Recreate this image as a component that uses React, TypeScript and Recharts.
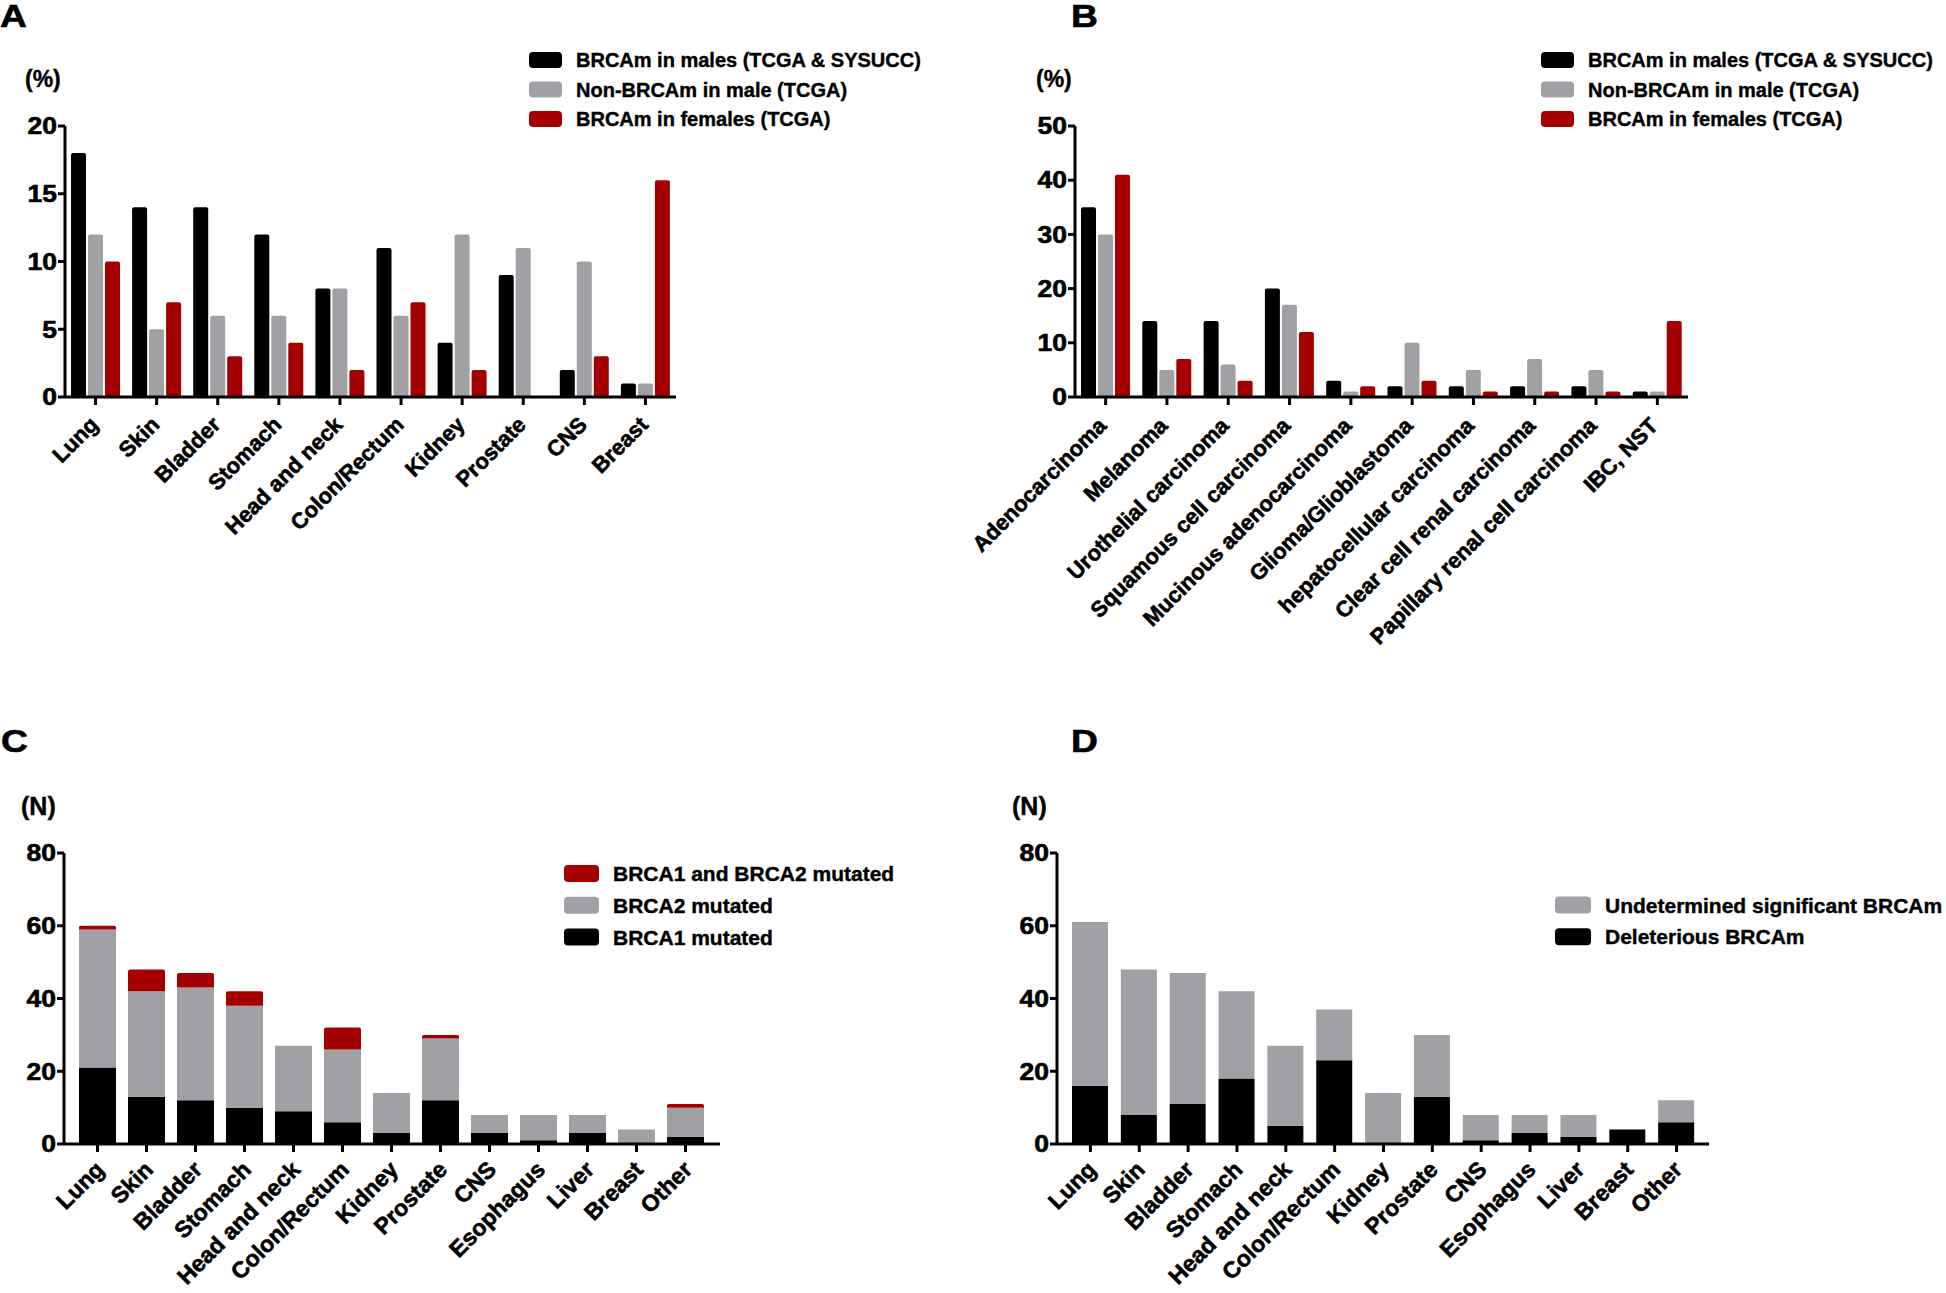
import { BarChart, Bar, XAxis, YAxis } from 'recharts';

const tissuesA = ['Lung', 'Skin', 'Bladder', 'Stomach', 'Head and neck', 'Colon/Rectum', 'Kidney', 'Prostate', 'CNS', 'Breast'];
const malesA = [18, 14, 14, 12, 8, 11, 4, 9, 2, 1];
const nonBrcaMaleA = [12, 5, 6, 6, 8, 6, 12, 11, 10, 1];
const femalesA = [10, 7, 3, 4, 2, 7, 2, 0, 3, 16];
const ticksA = [0, 5, 10, 15, 20];

const histologyB = [
  'Adenocarcinoma', 'Melanoma', 'Urothelial carcinoma', 'Squamous cell carcinoma', 'Mucinous adenocarcinoma',
  'Glioma/Glioblastoma', 'hepatocellular carcinoma', 'Clear cell renal carcinoma', 'Papillary renal cell carcinoma', 'IBC, NST',
];
const malesB = [35, 14, 14, 20, 3, 2, 2, 2, 2, 1];
const nonBrcaMaleB = [30, 5, 6, 17, 1, 10, 5, 7, 5, 1];
const femalesB = [41, 7, 3, 12, 2, 3, 1, 1, 1, 14];
const ticksB = [0, 10, 20, 30, 40, 50];

const tissuesCD = ['Lung', 'Skin', 'Bladder', 'Stomach', 'Head and neck', 'Colon/Rectum', 'Kidney', 'Prostate', 'CNS', 'Esophagus', 'Liver', 'Breast', 'Other'];
const brca1C = [21, 13, 12, 10, 9, 6, 3, 12, 3, 1, 3, 0, 2];
const brca2C = [38, 29, 31, 28, 18, 20, 11, 17, 5, 7, 5, 4, 8];
const bothC = [1, 6, 4, 4, 0, 6, 0, 1, 0, 0, 0, 0, 1];
const deleteriousD = [16, 8, 11, 18, 5, 23, 0, 13, 1, 3, 2, 4, 6];
const undeterminedD = [45, 40, 36, 24, 22, 14, 14, 17, 7, 5, 6, 0, 6];
const ticksCD = [0, 20, 40, 60, 80];

const legendAB = ['BRCAm in males (TCGA & SYSUCC)', 'Non-BRCAm in male (TCGA)', 'BRCAm in females (TCGA)'];
const legendC = ['BRCA1 and BRCA2 mutated', 'BRCA2 mutated', 'BRCA1 mutated'];
const legendD = ['Undetermined significant BRCAm', 'Deleterious BRCAm'];

const BLACK = '#000000';
const GRAY = '#A1A1A5';
const RED = '#A40000';
const FONT = "'Liberation Sans', Arial, Helvetica, sans-serif";

const dataA = tissuesA.map((name, i) => ({ name, males: malesA[i], non: nonBrcaMaleA[i], females: femalesA[i] }));
const dataB = histologyB.map((name, i) => ({ name, males: malesB[i], non: nonBrcaMaleB[i], females: femalesB[i] }));
const dataC = tissuesCD.map((name, i) => ({ name, brca1: brca1C[i], brca2: brca2C[i], both: bothC[i] }));
const dataD = tissuesCD.map((name, i) => ({ name, del: deleteriousD[i], und: undeterminedD[i] }));

const axisLine = { stroke: '#000', strokeWidth: 3 };
// heavier strokes to mimic the Prism export's chunky bold type
const heavy = { stroke: '#000', strokeWidth: 0.6, fill: '#000' };

function SlantTick({ x, y, payload, size, dx, dy }: any) {
  const ax = x + dx;
  const ay = y + dy;
  return (
    <text x={ax} y={ay} transform={`rotate(-45, ${ax}, ${ay})`} textAnchor="end"
      fontSize={size} fontWeight={700} fontFamily={FONT} {...heavy}>
      {payload.value}
    </text>
  );
}

function NumTick({ x, y, payload }: any) {
  return (
    <text transform={`translate(${x}, ${y}) scale(1.15, 1)`} textAnchor="end" dy="0.36em"
      fontSize={23} fontWeight={700} fontFamily={FONT} {...heavy}>
      {payload.value}
    </text>
  );
}

function Legend({ x, y, w, h, size, step, items }: { x: number; y: number; w: number; h: number; size: number; step: number; items: [string, string][] }) {
  return (
    <g>
      {items.map(([label, color], i) => {
        const cy = y + i * step;
        return (
          <g key={label}>
            <rect x={x} y={cy - h / 2} width={w} height={h} rx={4} fill={color} />
            <text x={x + w + 14} y={cy + size * 0.36} fontSize={size} fontWeight={700} fontFamily={FONT} {...heavy} strokeWidth={0.4}>{label}</text>
          </g>
        );
      })}
    </g>
  );
}

function Letter({ x, y, children }: { x: number; y: number; children: string }) {
  return <text transform={`translate(${x}, ${y}) scale(1.2, 1)`} fontSize={31} {...heavy}>{children}</text>;
}

export default function App() {
  const box = (left: number, top: number) => ({ position: 'absolute' as const, left, top });
  return (
    <div style={{ position: 'absolute', left: 0, top: 0, width: 1946, height: 1293, background: '#fff', fontFamily: FONT }}>
      <div style={box(0, 0)}>
        <BarChart width={700} height={560} data={dataA} margin={{ top: 126, right: 24, bottom: 23, left: 0 }} barSize={15} barGap={2}>
          <XAxis dataKey="name" height={140} interval={0} tickSize={8} axisLine={axisLine} tickLine={axisLine}
            tick={(p: any) => <SlantTick {...p} size={22} dx={4} dy={19} />} />
          <YAxis width={65} domain={[0, 20]} ticks={ticksA} tickSize={7} tickMargin={1} axisLine={axisLine} tickLine={axisLine} tick={NumTick} />
          <Bar dataKey="males" fill={BLACK} radius={[2, 2, 0, 0]} isAnimationActive={false} />
          <Bar dataKey="non" fill={GRAY} radius={[2, 2, 0, 0]} isAnimationActive={false} />
          <Bar dataKey="females" fill={RED} radius={[2, 2, 0, 0]} isAnimationActive={false} />
        </BarChart>
      </div>
      <div style={box(860, 0)}>
        <BarChart width={840} height={700} data={dataB} margin={{ top: 126, right: 12, bottom: 23, left: 140 }} barSize={15} barGap={2}>
          <XAxis dataKey="name" height={280} interval={0} tickSize={8} axisLine={axisLine} tickLine={axisLine}
            tick={(p: any) => <SlantTick {...p} size={22} dx={2} dy={20} />} />
          <YAxis width={75} domain={[0, 50]} ticks={ticksB} tickSize={7} tickMargin={1} axisLine={axisLine} tickLine={axisLine} tick={NumTick} />
          <Bar dataKey="males" fill={BLACK} radius={[2, 2, 0, 0]} isAnimationActive={false} />
          <Bar dataKey="non" fill={GRAY} radius={[2, 2, 0, 0]} isAnimationActive={false} />
          <Bar dataKey="females" fill={RED} radius={[2, 2, 0, 0]} isAnimationActive={false} />
        </BarChart>
      </div>
      <div style={box(0, 720)}>
        <BarChart width={740} height={573} data={dataC} margin={{ top: 133, right: 20, bottom: 9, left: 0 }} barSize={37}>
          <XAxis dataKey="name" height={140} interval={0} tickSize={8} axisLine={axisLine} tickLine={axisLine} padding={{ left: 9, right: 10 }}
            tick={(p: any) => <SlantTick {...p} size={23} dx={8} dy={17} />} />
          <YAxis width={64} domain={[0, 80]} ticks={ticksCD} tickSize={7} tickMargin={1} axisLine={axisLine} tickLine={axisLine} tick={NumTick} />
          <Bar dataKey="brca1" stackId="c" fill={BLACK} isAnimationActive={false} />
          <Bar dataKey="brca2" stackId="c" fill={GRAY} isAnimationActive={false} />
          <Bar dataKey="both" stackId="c" fill={RED} radius={[2, 2, 0, 0]} isAnimationActive={false} />
        </BarChart>
      </div>
      <div style={box(1000, 720)}>
        <BarChart width={720} height={573} data={dataD} margin={{ top: 133, right: 11, bottom: 9, left: 0 }} barSize={36}>
          <XAxis dataKey="name" height={140} interval={0} tickSize={8} axisLine={axisLine} tickLine={axisLine} padding={{ left: 9, right: 8 }}
            tick={(p: any) => <SlantTick {...p} size={23} dx={7} dy={17} />} />
          <YAxis width={57} domain={[0, 80]} ticks={ticksCD} tickSize={7} tickMargin={1} axisLine={axisLine} tickLine={axisLine} tick={NumTick} />
          <Bar dataKey="del" stackId="d" fill={BLACK} isAnimationActive={false} />
          <Bar dataKey="und" stackId="d" fill={GRAY} isAnimationActive={false} />
        </BarChart>
      </div>
      <svg width={1946} height={1293} style={{ position: 'absolute', left: 0, top: 0, pointerEvents: 'none' }} fontFamily={FONT} fontWeight={700}>
        <Letter x={0} y={27}>A</Letter>
        <Letter x={1071} y={27}>B</Letter>
        <Letter x={1} y={752}>C</Letter>
        <Letter x={1071} y={752}>D</Letter>
        <text x={25} y={87} fontSize={23} {...heavy} strokeWidth={0.4}>(%)</text>
        <text x={1036} y={87} fontSize={23} {...heavy} strokeWidth={0.4}>(%)</text>
        <text x={21} y={815} fontSize={25} {...heavy} strokeWidth={0.4}>(N)</text>
        <text x={1012} y={815} fontSize={25} {...heavy} strokeWidth={0.4}>(N)</text>
        <Legend x={529} y={60} w={33} h={16} size={20} step={29.5} items={[[legendAB[0], BLACK], [legendAB[1], GRAY], [legendAB[2], RED]]} />
        <Legend x={1541} y={60} w={33} h={16} size={20} step={29.5} items={[[legendAB[0], BLACK], [legendAB[1], GRAY], [legendAB[2], RED]]} />
        <Legend x={564} y={873.5} w={35} h={17} size={21} step={31.8} items={[[legendC[0], RED], [legendC[1], GRAY], [legendC[2], BLACK]]} />
        <Legend x={1555} y={905} w={36} h={17} size={21} step={31.8} items={[[legendD[0], GRAY], [legendD[1], BLACK]]} />
      </svg>
    </div>
  );
}
